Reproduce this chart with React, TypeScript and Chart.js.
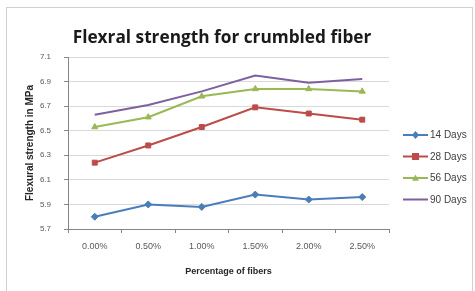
import React, { useEffect, useRef } from 'react';
import { Chart, registerables } from 'chart.js';

Chart.register(...registerables);

const categories = ['0.00%', '0.50%', '1.00%', '1.50%', '2.00%', '2.50%'];
const days14 = [5.8, 5.9, 5.88, 5.98, 5.94, 5.96];
const days28 = [6.24, 6.38, 6.53, 6.69, 6.64, 6.59];
const days56 = [6.53, 6.61, 6.78, 6.84, 6.84, 6.82];
const days90 = [6.63, 6.71, 6.82, 6.95, 6.89, 6.92];
const seriesNames = ['14 Days', '28 Days', '56 Days', '90 Days'];
const yTicks = [5.7, 5.9, 6.1, 6.3, 6.5, 6.7, 6.9, 7.1];
const chartTitle = 'Flexral strength for crumbled fiber';
const yTitle = 'Flexural strength in MPa';
const xTitle = 'Percentage of fibers';

const colors = ['#4A7EBB', '#BE4B48', '#98B954', '#7D60A0'];
const markers = ['rectRot', 'rect', 'triangle', 'line'];
const radii = [3.5, 3.5, 3.5, 0];

const W = 475;
const H = 291;

const decorPlugin = {
  id: 'decor',
  beforeDraw(chart: any) {
    const ctx = chart.ctx;
    ctx.save();
    ctx.fillStyle = '#ffffff';
    ctx.fillRect(0, 0, W, H);
    ctx.strokeStyle = '#D0D0D0';
    ctx.lineWidth = 1;
    ctx.strokeRect(6.5, 7.5, 466, 300);
    ctx.restore();
  },
  afterDraw(chart: any) {
    const ctx = chart.ctx;
    ctx.save();
    // title
    let size = 17;
    ctx.font = `bold ${size}px "Open Sans"`;
    const w = ctx.measureText(chartTitle).width;
    size = (size * 299) / w;
    ctx.font = `bold ${size}px "Open Sans"`;
    ctx.fillStyle = '#1a1a1a';
    ctx.textAlign = 'center';
    ctx.textBaseline = 'middle';
    ctx.fillText(chartTitle, 222, 38);
    // legend
    chart.data.datasets.forEach((ds: any, i: number) => {
      const y = 135 + i * 21.5;
      ctx.strokeStyle = colors[i];
      ctx.lineWidth = 2;
      ctx.beginPath();
      ctx.moveTo(403, y);
      ctx.lineTo(428, y);
      ctx.stroke();
      if (radii[i] > 0) {
        ctx.fillStyle = colors[i];
        const cx = 415.5;
        const r = radii[i];
        ctx.beginPath();
        if (markers[i] === 'rectRot') {
          ctx.moveTo(cx, y - r - 0.5);
          ctx.lineTo(cx + r, y);
          ctx.lineTo(cx, y + r + 0.5);
          ctx.lineTo(cx - r, y);
        } else if (markers[i] === 'rect') {
          ctx.rect(cx - r, y - r, r * 2, r * 2);
        } else {
          ctx.moveTo(cx, y - r);
          ctx.lineTo(cx + r, y + r * 0.8);
          ctx.lineTo(cx - r, y + r * 0.8);
        }
        ctx.closePath();
        ctx.fill();
      }
      ctx.fillStyle = '#404040';
      ctx.font = '10px "Liberation Sans"';
      ctx.textAlign = 'left';
      ctx.textBaseline = 'middle';
      ctx.fillText(ds.label, 430, y + 0.5);
    });
    ctx.restore();
  },
};

export default function App() {
  const ref = useRef<HTMLCanvasElement>(null);
  useEffect(() => {
    if (!ref.current) return;
    const seriesData = [days14, days28, days56, days90];
    const chart = new Chart(ref.current, {
      type: 'line',
      data: {
        labels: categories,
        datasets: seriesData.map((d, i) => ({
          label: seriesNames[i],
          data: d,
          borderColor: colors[i],
          backgroundColor: colors[i],
          borderWidth: 2,
          pointStyle: markers[i] as any,
          pointRadius: radii[i],
          pointBorderWidth: 1,
          tension: 0,
          fill: false,
        })),
      },
      options: {
        responsive: false,
        animation: false,
        events: [],
        layout: { padding: { left: 10, right: W - 389, top: 57, bottom: 10 } },
        plugins: {
          legend: { display: false },
          title: { display: false },
          tooltip: { enabled: false },
        },
        scales: {
          x: {
            type: 'category',
            offset: true,
            grid: {
              offset: true,
              drawOnChartArea: false,
              drawTicks: true,
              tickLength: 4,
              color: '#868686',
            },
            border: { display: true, color: '#868686', width: 1 },
            ticks: {
              color: '#595959',
              font: { family: '"Liberation Sans"', size: 9 },
              padding: 8,
              maxRotation: 0,
              autoSkip: false,
            },
            title: {
              display: true,
              text: xTitle,
              color: '#262626',
              font: { family: '"Liberation Sans"', size: 9, weight: 'bold' },
              padding: { top: 0, bottom: 4 },
            },
            afterFit: (s: any) => {
              s.height = H - 10 - 229;
            },
          },
          y: {
            type: 'linear',
            min: 5.7,
            max: 7.1,
            afterBuildTicks: (s: any) => {
              s.ticks = yTicks.map((v) => ({ value: v }));
            },
            grid: {
              color: '#D9D9D9',
              drawTicks: true,
              tickLength: 4,
              tickColor: '#868686',
            },
            border: { display: true, color: '#868686', width: 1 },
            ticks: {
              color: '#595959',
              font: { family: '"Liberation Sans"', size: 8 },
              padding: 13,
              callback: (v: any) => Number(v).toFixed(1),
            },
            title: {
              display: true,
              text: yTitle,
              color: '#262626',
              font: { family: '"Liberation Sans"', size: 10, weight: 'bold' },
              padding: { top: 14, bottom: 0 },
            },
            afterFit: (s: any) => {
              s.width = 58;
            },
          },
        },
      },
      plugins: [decorPlugin],
    });
    return () => chart.destroy();
  }, []);
  return (
    <div style={{ position: 'absolute', left: 0, top: 0, width: W, height: H }}>
      <canvas ref={ref} width={W} height={H} style={{ display: 'block' }} />
    </div>
  );
}
